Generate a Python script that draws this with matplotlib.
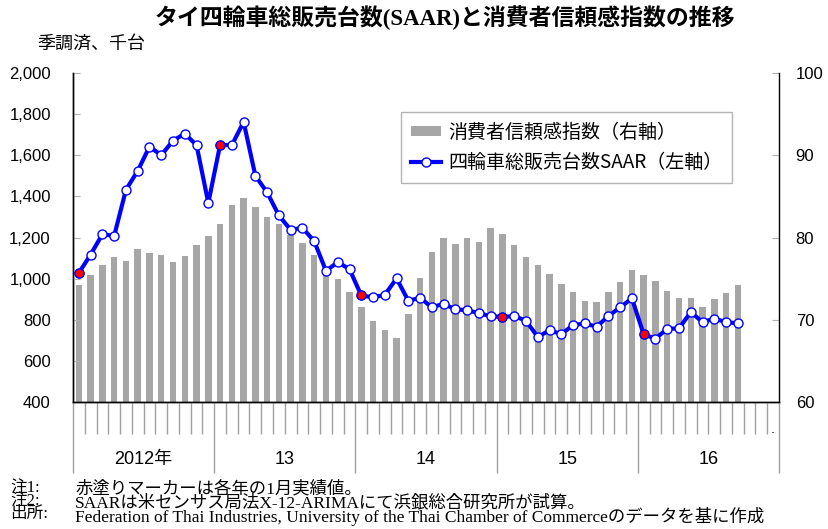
import matplotlib
matplotlib.use('Agg')
import matplotlib.pyplot as plt
import matplotlib.transforms as mtransforms
from matplotlib.lines import Line2D
from matplotlib.patches import Patch

# データ（2012年1月～2016年9月、月次）
saar = [1028, 1117, 1216, 1208, 1432, 1524, 1642, 1600, 1671, 1705, 1649, 1368,
        1650, 1649, 1762, 1500, 1419, 1307, 1237, 1247, 1182, 1038, 1080, 1046,
        918, 909, 921, 1001, 892, 907, 860, 878, 850, 847, 831, 818,
        813, 818, 795, 716, 749, 730, 774, 782, 766, 818, 860, 904,
        729, 708, 756, 758, 837, 789, 805, 789, 782]
confidence = [74.2, 75.5, 76.6, 77.6, 77.1, 78.6, 78.1, 77.9, 77.0, 77.8, 79.1, 80.2,
              81.7, 84.0, 84.8, 83.7, 82.5, 81.6, 80.3, 79.3, 77.9, 76.4, 75.0, 73.4,
              71.5, 69.9, 68.8, 67.8, 70.7, 75.1, 78.2, 80.0, 79.2, 80.0, 79.4, 81.1,
              80.4, 79.1, 77.6, 76.6, 75.6, 74.4, 73.4, 72.3, 72.1, 73.4, 74.6, 76.1,
              75.5, 74.7, 73.5, 72.7, 72.6, 71.6, 72.5, 73.2, 74.2]
year_labels = ['2012年', '13', '14', '15', '16']
n_months = 60

jp = ['Noto Sans CJK JP']
sans = ['Liberation Sans', 'Noto Sans CJK JP']
serif = ['Liberation Serif', 'Noto Sans CJK JP']

months = list(range(len(saar)))
jan_idx = [i for i in months if i % 12 == 0]

fig = plt.figure(figsize=(8.29, 5.29), dpi=100)
ax1 = fig.add_axes([73 / 829, 1 - 402 / 529, 706 / 829, 329 / 529])
ax2 = ax1.twinx()

# 棒グラフ（右軸）
ax2.bar(months, confidence, width=0.55, color='#a6a6a6', zorder=1)
ax2.set_ylim(60, 100)
ax2.set_yticks([60, 70, 80, 90, 100])

# 折れ線（左軸）
ax1.set_zorder(ax2.get_zorder() + 1)
ax1.patch.set_visible(False)
ax1.plot(months, saar, color='#0000ff', lw=3, marker='o', ms=6.5,
         mfc='white', mec='#0000ff', mew=1, zorder=3)
ax1.plot(jan_idx, [saar[i] for i in jan_idx], ls='none', marker='o', ms=6.5,
         mfc='#ff0000', mec='#0000ff', mew=0.8, zorder=4)
ax1.set_ylim(400, 2000)
ax1.set_yticks(range(400, 2001, 200))
ax1.set_yticklabels([f'{v:,}' for v in range(400, 2001, 200)])
ax1.set_xlim(-0.5, n_months - 0.5)

for ax in (ax1, ax2):
    ax.spines['top'].set_visible(False)
    for s in ax.spines.values():
        s.set_linewidth(1)
ax1.spines['right'].set_visible(False)

ax1.tick_params(axis='y', direction='in', length=5, color='#b0b0b0', pad=16,
                labelsize=12)
ax2.tick_params(axis='y', direction='in', length=5, color='#b0b0b0', pad=12,
                labelsize=12)
for lab in ax1.get_yticklabels() + ax2.get_yticklabels():
    lab.set_family(sans)

# x軸の目盛（月・年の区切り）
ax1.set_xticks([12 * k - 0.5 for k in range(6)])
ax1.set_xticks([m - 0.5 for m in range(n_months + 1)], minor=True)
ax1.tick_params(axis='x', which='major', direction='out', length=51,
                color='#a0a0a0', width=1, labelbottom=False)
ax1.tick_params(axis='x', which='minor', direction='out', length=23,
                color='#a0a0a0', width=1)
ax2.tick_params(axis='x', which='both', bottom=True, direction='out', length=4,
                color='black', width=1, labelbottom=False)

trans = mtransforms.blended_transform_factory(ax1.transData, ax1.transAxes)
for k, lab in enumerate(year_labels):
    ax1.text(12 * k + 5.5, -0.176, lab, transform=trans, ha='center', va='center',
             fontsize=13, family=sans)
ax1.text(59.0, -0.085, '.', transform=trans, ha='center', va='center', fontsize=9)

# 凡例
handles = [Patch(facecolor='#a6a6a6', edgecolor='none'),
           Line2D([], [], color='#0000ff', lw=3, marker='o', ms=6.5,
                  mfc='white', mec='#0000ff', mew=1)]
labels = ['消費者信頼感指数（右軸）', '四輪車総販売台数SAAR（左軸）']
leg = ax1.legend(handles, labels, loc='upper right', bbox_to_anchor=(0.933, 0.881),
                 prop={'family': jp, 'size': 13.7}, frameon=True, fancybox=False,
                 edgecolor='#a0a0a0', handlelength=1.6, handleheight=0.4,
                 handletextpad=0.35, borderpad=0.5, borderaxespad=0,
                 labelspacing=0.5)
leg.get_frame().set_linewidth(1)

# タイトル・注記
fig.text(0.537, 0.966, 'タイ四輪車総販売台数(SAAR)と消費者信頼感指数の推移',
         ha='center', va='center', fontsize=16.5, fontweight='bold', family=serif)
fig.text(37 / 829, 1 - 44 / 529, '季調済、千台', ha='left', va='center',
         fontsize=13, family=jp)

note_heads = ['注1:', '注2:', '出所:']
note_bodies = ['赤塗りマーカーは各年の1月実績値。',
               'SAARは米センサス局法X-12-ARIMAにて浜銀総合研究所が試算。',
               'Federation of Thai Industries, University of the Thai Chamber of Commerceのデータを基に作成']
fig.text(10 / 829, 1 - 481 / 529, '\n'.join(note_heads), ha='left', va='top',
         fontsize=12, family=serif, linespacing=0.72)
fig.text(75 / 829, 1 - 481 / 529, '\n'.join(note_bodies), ha='left', va='top',
         fontsize=12.5, family=serif, linespacing=0.72)

fig.savefig('out.png', dpi=100)
